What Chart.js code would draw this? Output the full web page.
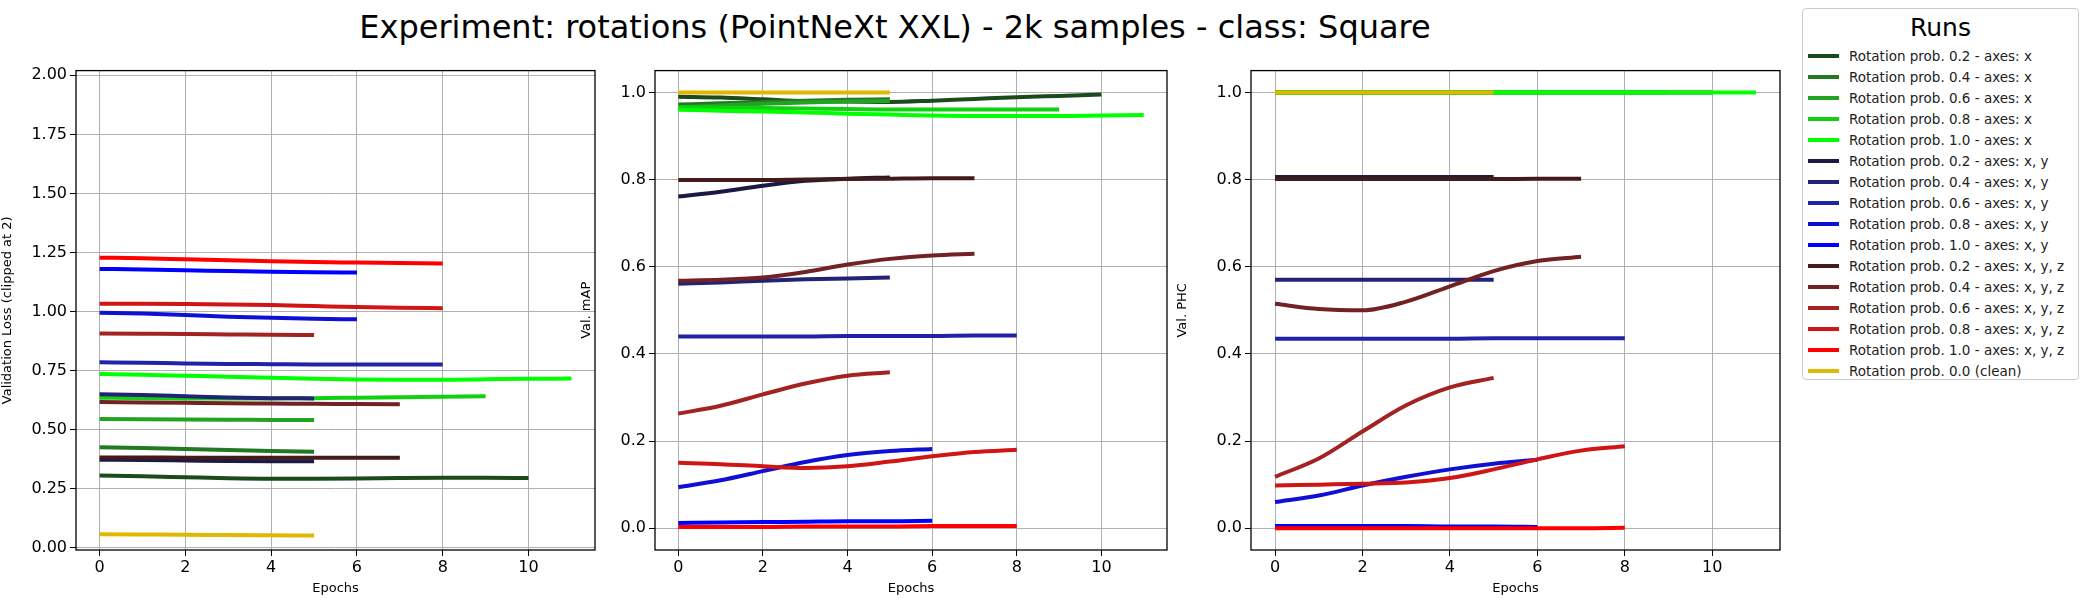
<!DOCTYPE html>
<html><head><meta charset="utf-8">
<script src="https://cdn.jsdelivr.net/npm/chart.js@4/dist/chart.umd.min.js"></script>
<style>
body{margin:0;width:2083px;height:598px;background:#fff;font-family:"DejaVu Sans",sans-serif;position:relative;overflow:hidden}
#title{position:absolute;left:0;width:1790px;top:8px;text-align:center;font-size:32px;color:#000}
canvas{position:absolute}
#legend{position:absolute;left:1802px;top:8px;width:277px;height:372px;border:1px solid #ccc;border-radius:4px;box-sizing:border-box;background:#fff}
#legend .t{text-align:center;font-size:25px;margin-top:4px;height:32px}
#legend .e{display:flex;align-items:center;height:21px;font-size:13.5px;color:#222}
#legend .sw{width:31px;height:4px;margin:0 10px 0 5px}
</style></head><body>
<div id="title">Experiment: rotations (PointNeXt XXL) - 2k samples - class: Square</div>
<canvas id="c0"></canvas><canvas id="c1"></canvas><canvas id="c2"></canvas>
<div id="legend"><div class="t">Runs</div></div>
<script>
const seriesNames = ["Rotation prob. 0.2 - axes: x","Rotation prob. 0.4 - axes: x","Rotation prob. 0.6 - axes: x","Rotation prob. 0.8 - axes: x","Rotation prob. 1.0 - axes: x",
"Rotation prob. 0.2 - axes: x, y","Rotation prob. 0.4 - axes: x, y","Rotation prob. 0.6 - axes: x, y","Rotation prob. 0.8 - axes: x, y","Rotation prob. 1.0 - axes: x, y",
"Rotation prob. 0.2 - axes: x, y, z","Rotation prob. 0.4 - axes: x, y, z","Rotation prob. 0.6 - axes: x, y, z","Rotation prob. 0.8 - axes: x, y, z","Rotation prob. 1.0 - axes: x, y, z",
"Rotation prob. 0.0 (clean)"];
const seriesColors = ["#1b4a1b","#217a21","#22a322","#11d011","#00ff00","#1a1a45","#222277","#2222a8","#1010d5","#0000ff","#451a1a","#722222","#a32222","#d01515","#ff0000","#e0b800"];

const lossData = [
 [0.305,0.302,0.298,0.294,0.292,0.292,0.293,0.295,0.296,0.296,0.295],
 [0.425,0.422,0.418,0.413,0.409,0.406],
 [0.545,0.544,0.543,0.542,0.541,0.540],
 [0.635,0.633,0.632,0.631,0.632,0.633,0.635,0.637,0.639,0.641],
 [0.735,0.732,0.728,0.724,0.719,0.715,0.712,0.711,0.711,0.713,0.715,0.716],
 [0.372,0.371,0.369,0.367,0.366,0.366],
 [0.650,0.646,0.641,0.636,0.633,0.632],
 [0.785,0.783,0.780,0.778,0.777,0.776,0.776,0.775,0.775],
 [0.995,0.991,0.985,0.978,0.973,0.969,0.967],
 [1.180,1.178,1.175,1.171,1.168,1.166,1.165],
 [0.382,0.382,0.381,0.381,0.381,0.381,0.381,0.381],
 [0.617,0.615,0.613,0.611,0.610,0.609,0.608,0.607],
 [0.907,0.906,0.905,0.903,0.901,0.900],
 [1.033,1.033,1.032,1.030,1.027,1.023,1.019,1.016,1.014],
 [1.228,1.225,1.221,1.217,1.213,1.209,1.207,1.205,1.203],
 [0.057,0.056,0.055,0.053,0.052,0.051]
];
const mapData = [
 [0.990,0.988,0.984,0.980,0.979,0.978,0.981,0.985,0.989,0.992,0.995],
 [0.972,0.975,0.978,0.981,0.983,0.984],
 [0.966,0.970,0.974,0.977,0.979,0.980],
 [0.966,0.965,0.964,0.963,0.962,0.961,0.961,0.961,0.961,0.961],
 [0.960,0.958,0.956,0.954,0.951,0.949,0.947,0.946,0.946,0.946,0.947,0.948],
 [0.761,0.772,0.786,0.797,0.802,0.805],
 [0.561,0.564,0.568,0.571,0.573,0.575],
 [0.440,0.440,0.440,0.440,0.441,0.441,0.441,0.442,0.442],
 [0.094,0.110,0.131,0.152,0.168,0.177,0.182],
 [0.012,0.013,0.014,0.015,0.016,0.016,0.017],
 [0.799,0.799,0.799,0.800,0.801,0.802,0.803,0.803],
 [0.568,0.570,0.575,0.588,0.605,0.618,0.626,0.630],
 [0.263,0.281,0.307,0.332,0.350,0.358],
 [0.150,0.147,0.142,0.138,0.142,0.153,0.165,0.175,0.180],
 [0.003,0.003,0.003,0.004,0.004,0.004,0.005,0.005,0.005],
 [1.000,1.000,1.000,1.000,1.000,1.000]
];
const phcData = [
 [1,1,1,1,1,1,1,1,1,1,1],
 [1,1,1,1,1,1],
 [1,1,1,1,1,1],
 [1,1,1,1,1,1,1,1,1,1],
 [1,1,1,1,1,1,1,1,1,1,1,1],
 [0.806,0.806,0.806,0.806,0.806,0.806],
 [0.570,0.570,0.570,0.570,0.570,0.570],
 [0.435,0.435,0.435,0.435,0.435,0.436,0.436,0.436,0.436],
 [0.060,0.075,0.098,0.118,0.135,0.148,0.157],
 [0.005,0.005,0.005,0.005,0.004,0.004,0.003],
 [0.801,0.801,0.801,0.801,0.801,0.801,0.802,0.802],
 [0.515,0.503,0.500,0.520,0.555,0.590,0.613,0.623],
 [0.118,0.160,0.222,0.282,0.323,0.345],
 [0.098,0.100,0.102,0.105,0.115,0.135,0.158,0.178,0.188],
 [0.000,0.000,0.000,0.000,0.000,0.000,0.000,0.000,0.001],
 [1,1,1,1,1,1]
];
const xTicks = [0,2,4,6,8,10];
const lossTicks = [0,0.25,0.5,0.75,1.0,1.25,1.5,1.75,2.0];
const metricTicks = [0,0.2,0.4,0.6,0.8,1.0];

const leg=document.getElementById('legend');
seriesNames.forEach((n,i)=>{const e=document.createElement('div');e.className='e';
 e.innerHTML='<div class="sw" style="background:'+seriesColors[i]+'"></div><span>'+n+'</span>';leg.appendChild(e);});

const frame={id:'frame',afterDraw(c){const a=c.chartArea,x=c.ctx;x.save();x.strokeStyle='#000';x.lineWidth=1.3;x.strokeRect(a.left,a.top,a.right-a.left,a.bottom-a.top);x.restore();}};
const YW=80, XH=46;
const panels=[
 {id:'c0',data:lossData,ticks:lossTicks,min:-0.01,max:2.02,dec:2,label:'Validation Loss (clipped at 2)',L:76,T:68,W:519,H:482},
 {id:'c1',data:mapData,ticks:metricTicks,min:-0.05,max:1.05,dec:1,label:'Val. mAP',L:655,T:68,W:512,H:482},
 {id:'c2',data:phcData,ticks:metricTicks,min:-0.05,max:1.05,dec:1,label:'Val. PHC',L:1251,T:68,W:529,H:482}
];
panels.forEach(p=>{
 const cv=document.getElementById(p.id);
 const w=p.W+YW+10,h=p.H+XH+10+10;
 cv.style.left=(p.L-YW)+'px';cv.style.top=(p.T-10)+'px';cv.style.width=w+'px';cv.style.height=h+'px';
 cv.width=w;cv.height=h;
 new Chart(cv,{type:'line',
  data:{datasets:p.data.map((arr,i)=>({label:seriesNames[i],order:20-i,data:arr.map((v,k)=>({x:k,y:v})),borderColor:seriesColors[i],backgroundColor:seriesColors[i],borderWidth:4,pointRadius:0,tension:0.3,cubicInterpolationMode:'monotone'}))},
  options:{responsive:false,animation:false,devicePixelRatio:1,
   layout:{padding:{top:10,right:10,left:0,bottom:10}},
   plugins:{legend:{display:false},tooltip:{enabled:false}},
   scales:{
    x:{type:'linear',min:-0.55,max:11.55,afterBuildTicks:a=>{a.ticks=xTicks.map(v=>({value:v}))},afterFit:a=>{a.height=XH},
     grid:{color:'#b0b0b0',lineWidth:1,tickLength:6,tickColor:'#000'},border:{display:false},
     ticks:{color:'#000',font:{family:'DejaVu Sans',size:16},maxRotation:0,padding:2},
     title:{display:true,text:'Epochs',color:'#000',font:{family:'DejaVu Sans',size:13},padding:{top:4,bottom:0}}},
    y:{min:p.min,max:p.max,afterBuildTicks:a=>{a.ticks=p.ticks.map(v=>({value:v}))},afterFit:a=>{a.width=YW},
     grid:{color:'#b0b0b0',lineWidth:1,tickLength:6,tickColor:'#000'},border:{display:false},
     ticks:{color:'#000',font:{family:'DejaVu Sans',size:16},padding:3,callback:v=>Number(v).toFixed(p.dec)},
     title:{display:true,text:p.label,color:'#000',font:{family:'DejaVu Sans',size:13},padding:{bottom:4}}}
   }},plugins:[frame]});
});
</script></body></html>
